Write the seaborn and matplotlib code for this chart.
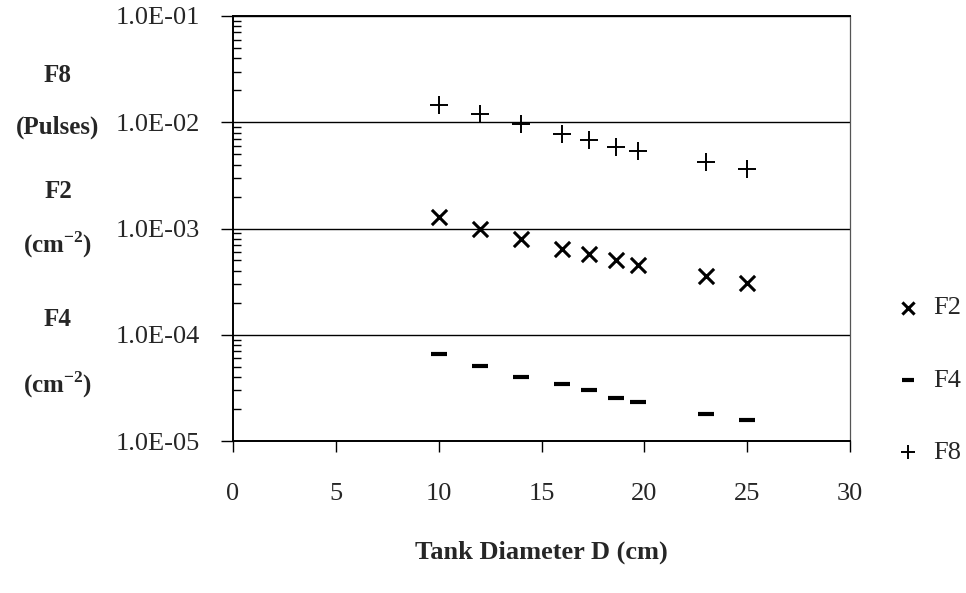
import numpy as np
import pandas as pd
import matplotlib
matplotlib.use("Agg")
import matplotlib.pyplot as plt
import matplotlib.ticker as mticker
import seaborn as sns

# ------------------- Data -------------------
diameter = [10, 12, 14, 16, 17.3, 18.6, 19.7, 23, 25]
f2_vals = [1.29e-3, 9.8e-4, 7.98e-4, 6.4e-4, 5.7e-4, 5.0e-4, 4.57e-4, 3.54e-4, 3.06e-4]
f4_vals = [6.56e-5, 5.09e-5, 4.03e-5, 3.44e-5, 2.99e-5, 2.55e-5, 2.32e-5, 1.79e-5, 1.57e-5]
f8_vals = [1.45e-2, 1.2e-2, 9.7e-3, 7.8e-3, 6.8e-3, 5.9e-3, 5.4e-3, 4.25e-3, 3.67e-3]
series_names = ["F2", "F4", "F8"]
x_ticks = [0, 5, 10, 15, 20, 25, 30]
y_ticks = [1e-5, 1e-4, 1e-3, 1e-2, 1e-1]

df = pd.DataFrame({
    "D": diameter * 3,
    "value": f2_vals + f4_vals + f8_vals,
    "series": [s for s in series_names for _ in diameter],
})

sns.set_theme(style="white")
plt.rcParams["font.family"] = ["Liberation Serif", "DejaVu Serif"]
plt.rcParams["mathtext.fontset"] = "custom"
plt.rcParams["mathtext.rm"] = "Liberation Serif"
plt.rcParams["mathtext.bf"] = "Liberation Serif:bold"

W, H = 966, 593
fig = plt.figure(figsize=(W / 100, H / 100), dpi=100)
ax = fig.add_axes([233 / W, 1 - 441 / H, (850 - 233) / W, (441 - 16) / H])

# marker styling per series
styles = {
    "F2": dict(marker="x", s=120, linewidth=2.2),
    "F4": dict(marker="_", s=130, linewidth=3.0),
    "F8": dict(marker="+", s=150, linewidth=1.4),
}
for name in series_names:
    sub = df[df["series"] == name]
    sns.scatterplot(data=sub, x="D", y="value", color="black", ax=ax,
                    label=name, **styles[name])

ax.set_yscale("log")
ax.set_xlim(0, 30)
ax.set_ylim(1e-5, 1e-1)
ax.set_xticks(x_ticks)
ax.set_yticks(y_ticks)
ax.yaxis.set_major_formatter(mticker.FuncFormatter(lambda v, p: f"{v:.1E}"))
ax.yaxis.set_minor_locator(mticker.LogLocator(base=10, subs=np.arange(2, 10)))
ax.yaxis.set_minor_formatter(mticker.NullFormatter())

ax.grid(axis="y", which="major", color="black", linewidth=1.0)
ax.tick_params(axis="x", which="major", direction="out", length=8, width=1,
               pad=22, labelsize=19, color="black", bottom=True)
ax.tick_params(axis="y", which="major", direction="out", length=9, width=1,
               pad=15, labelsize=19, color="black", left=True)
ax.tick_params(axis="y", which="minor", direction="in", length=6, width=1,
               color="black", left=True)
for side in ["left", "bottom", "top"]:
    ax.spines[side].set_color("black")
    ax.spines[side].set_linewidth(1.4)
ax.spines["right"].set_color("#555555")
ax.spines["right"].set_linewidth(0.9)

ax.set_xlabel("Tank Diameter D (cm)", fontsize=19, fontweight="bold", labelpad=26)
ax.set_ylabel("")

# left-side stacked axis labels
left_labels = [
    ("F8", 75), ("(Pulses)", 127), ("F2", 191),
    (r"(cm$^{\mathbf{-2}}$)", 245), ("F4", 320), (r"(cm$^{\mathbf{-2}}$)", 385),
]
for txt, ypx in left_labels:
    fig.text(58 / W, 1 - ypx / H, txt, ha="center", va="center",
             fontsize=18, fontweight="bold")

leg = ax.legend(loc="center left", bbox_to_anchor=(882 / W, 1 - 380 / H),
                bbox_transform=fig.transFigure, frameon=False, fontsize=19,
                labelspacing=1.85, handletextpad=0.45, handlelength=1.0,
                borderpad=0, markerscale=0.8)

fig.savefig("out.png", dpi=100, facecolor="white")
